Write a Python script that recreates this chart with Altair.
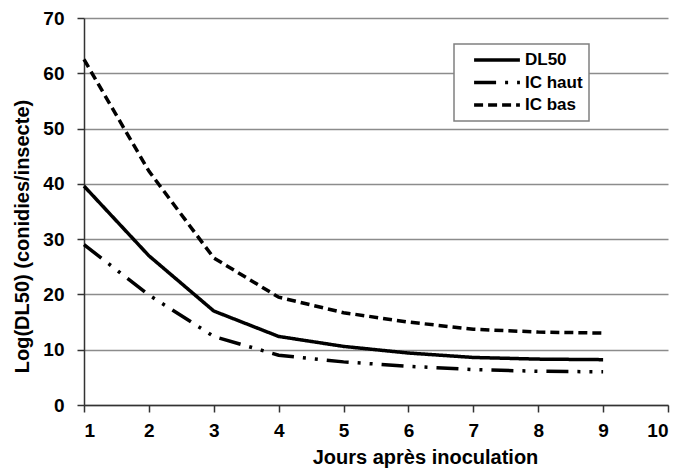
import altair as alt
import pandas as pd

jours = [1, 2, 3, 4, 5, 6, 7, 8, 9]
dl50 = [39.6, 27.0, 17.0, 12.4, 10.6, 9.4, 8.6, 8.3, 8.2]
ic_haut = [29.0, 19.9, 12.4, 9.0, 7.8, 7.0, 6.4, 6.1, 6.0]
ic_bas = [62.5, 42.3, 26.6, 19.5, 16.7, 15.0, 13.7, 13.2, 13.0]
series = ["DL50", "IC haut", "IC bas"]

rows = []
for name, vals in zip(series, [dl50, ic_haut, ic_bas]):
    for j, v in zip(jours, vals):
        rows.append({"jour": j, "valeur": v, "serie": name})
df = pd.DataFrame(rows)

FONT = "Liberation Sans"

chart = alt.Chart(df).mark_line(color="black", strokeWidth=3.5).encode(
    x=alt.X("jour:Q", scale=alt.Scale(domain=[1, 10], nice=False),
            axis=alt.Axis(title="Jours après inoculation", values=list(range(1, 11)),
                          grid=False, format="d", titleX=341, titleY=52,
                          titleBaseline="middle", labelPadding=9)),
    y=alt.Y("valeur:Q", scale=alt.Scale(domain=[0, 70], nice=False),
            axis=alt.Axis(title="Log(DL50) (conidies/insecte)", values=list(range(0, 71, 10)),
                          grid=True, titleX=-62, titleY=218, titleBaseline="middle",
                          labelPadding=13)),
    strokeDash=alt.StrokeDash("serie:N",
        scale=alt.Scale(domain=series, range=[[1, 0], [22, 9, 3, 9, 3, 9], [9, 5]]),
        legend=alt.Legend(title=None, orient="none", legendX=370, legendY=26,
                          symbolType="stroke", symbolSize=2100, symbolStrokeWidth=3.5,
                          symbolStrokeColor="black", labelFont=FONT, labelFontSize=17,
                          labelFontWeight="bold", labelColor="black",
                          fillColor="white", strokeColor="#808080",
                          padding=6, clipHeight=20, rowPadding=2.5, labelOffset=3,
                          symbolOffset=12,
                          labelExpr="datum.label + '\u00a0\u00a0\u00a0'")),
    detail="serie:N",
).properties(
    width=584, height=387,
    autosize=alt.AutoSizeParams(type="none"),
    padding={"left": 76, "top": 10, "right": 10, "bottom": 66},
).configure_view(stroke=None).configure_legend(strokeWidth=1.5).configure_axis(
    labelFont=FONT, titleFont=FONT, labelFontSize=19, titleFontSize=20,
    labelFontWeight="bold", titleFontWeight="bold", labelColor="black", titleColor="black",
    domainColor="#333333", tickColor="#333333", gridColor="#8c8c8c", gridWidth=1.5,
    tickSize=7, domainWidth=1.5, tickWidth=1.5,
)

chart.save("out.html", embed_options={"renderer": "svg", "actions": False})
